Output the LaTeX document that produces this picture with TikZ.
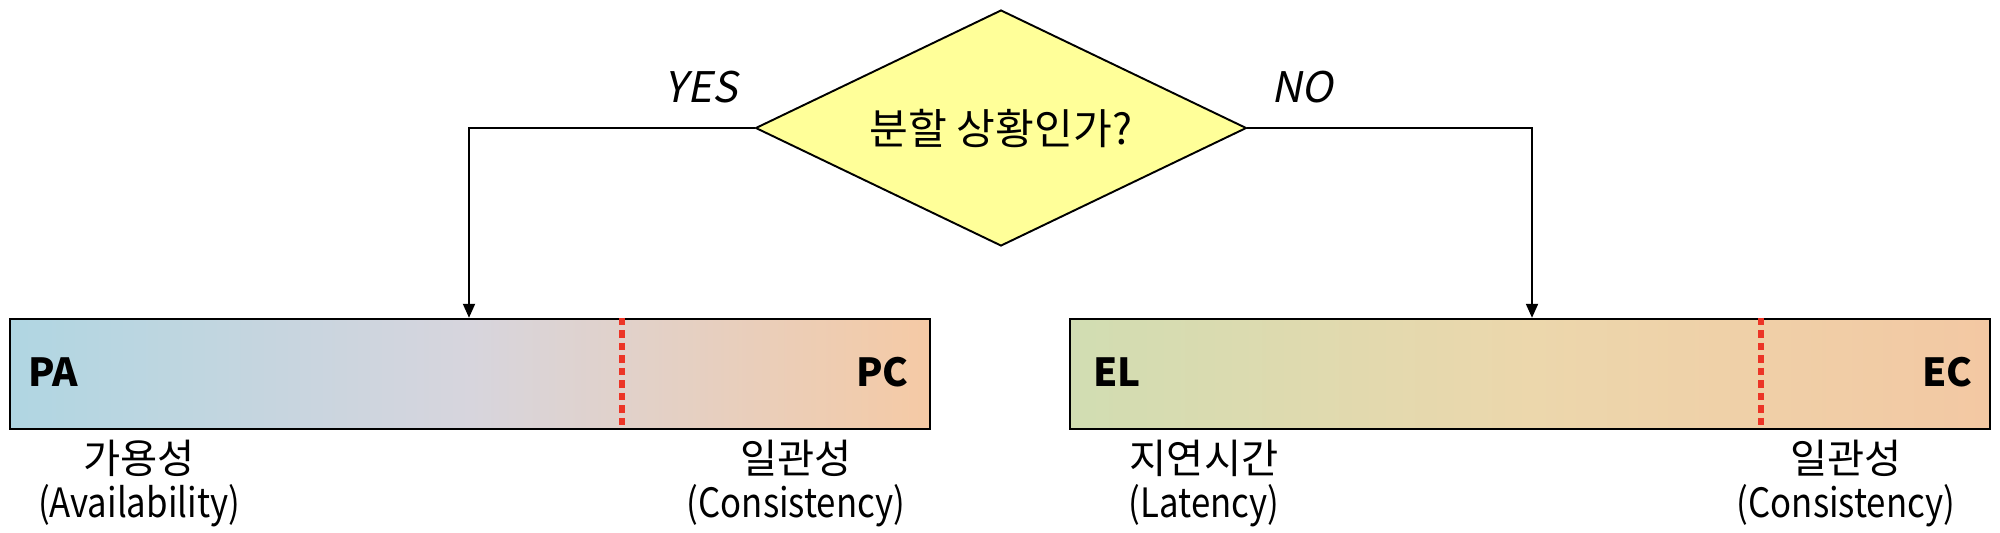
\documentclass[tikz,border=0pt]{standalone}
\usepackage{fontspec}
\setmainfont{Noto Sans CJK KR}
\newfontfamily\slantfont[FakeSlant=0.2]{Noto Sans CJK KR}
\newfontfamily\narrowfont[FakeStretch=0.86]{Noto Sans CJK KR}
\usepackage{xcolor}
\definecolor{DecisionYellow}{RGB}{255,255,153}
\definecolor{PaBlue}{RGB}{176,214,226}
\definecolor{PaMid}{RGB}{215,213,221}
\definecolor{PcPeach}{RGB}{245,202,165}
\definecolor{ElGreen}{RGB}{209,221,178}
\definecolor{ElMid}{RGB}{236,215,172}
\definecolor{EcPeach}{RGB}{243,200,163}
\definecolor{CutRed}{RGB}{236,52,38}
\usetikzlibrary{positioning,arrows.meta,shapes.geometric,calc}

\begin{document}
\begin{tikzpicture}[x=0.02cm, y=-0.02cm,
    q/.style={diamond, draw=black, line width=1.1pt, fill=DecisionYellow, aspect=2.08,
              minimum width=9.82cm, minimum height=4.72cm, inner sep=0pt,
              font=\fontsize{24}{28}\selectfont},
    bar/.style={rectangle, draw=black, line width=1.4pt, inner sep=0pt,
              minimum width=18.4cm, minimum height=2.2cm},
    tag/.style={inner sep=0pt, font=\fontsize{22}{26}\selectfont\bfseries},
    lbl/.style={inner sep=0pt, anchor=north, align=center, font=\fontsize{23}{25}\selectfont},
    ans/.style={inner sep=0pt, font=\fontsize{24}{28}\selectfont\slantfont},
    cut/.style={draw=CutRed, line width=3.2pt, dash pattern=on 0.15cm off 0.1cm},
    a/.style={-{Triangle[length=0.28cm, width=0.24cm]}, line width=1.1pt}
]
    \useasboundingbox (0,0) rectangle (2000,532);

    % decision
    \node[q] (q) at (1001,128) {분할 상황인가?};
    \node[ans] (yes) at (701,87) {YES};
    \node[ans] (no) at (1302,87) {NO};

    % bars
    \node[bar, left color=PaBlue, right color=PcPeach, middle color=PaMid] (pbar) at (470,374) {};
    \node[bar, left color=ElGreen, right color=EcPeach, middle color=ElMid] (ebar) at (1530,374) {};

    \coordinate (pcut) at (622,374);
    \coordinate (ecut) at (1761,374);
    \draw[cut] (pcut |- pbar.north) -- (pcut |- pbar.south);
    \draw[cut] (ecut |- ebar.north) -- (ecut |- ebar.south);

    \node[tag, anchor=west] (pa) at (28,372) {PA};
    \node[tag, anchor=east] (pc) at (909,372) {PC};
    \node[tag, anchor=west] (el) at (1093,372) {EL};
    \node[tag, anchor=east] (ec) at (1973,372) {EC};

    % labels
    \node[lbl] (pa-name) at (139,440) {가용성\\\narrowfont(Availability)};
    \node[lbl] (pc-name) at (796,440) {일관성\\\narrowfont(Consistency)};
    \node[lbl] (el-name) at (1204,440) {지연시간\\\narrowfont(Latency)};
    \node[lbl] (ec-name) at (1846,440) {일관성\\\narrowfont(Consistency)};

    % branches
    \coordinate (yesdrop) at (469,128);
    \coordinate (nodrop) at (1532,128);
    \draw[a] (q.west) -- (yesdrop) -- (yesdrop |- pbar.north);
    \draw[a] (q.east) -- (nodrop) -- (nodrop |- ebar.north);
\end{tikzpicture}
\end{document}
